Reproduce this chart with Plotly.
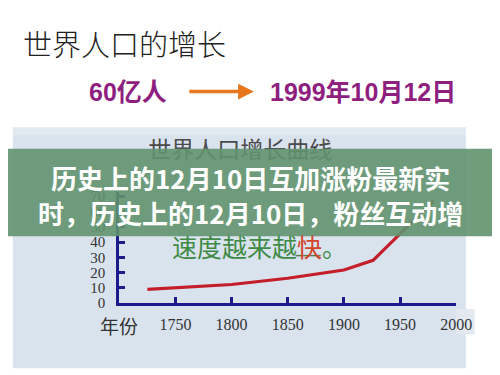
import plotly.graph_objects as go

# ---- data ----
years = [1725, 1750, 1800, 1850, 1900, 1926, 1961, 1980]
population = [9, 10, 12.2, 16.3, 21.7, 28, 53, 67]
x_ticks = [1750, 1800, 1850, 1900, 1950, 2000]
y_ticks = [0, 10, 20, 30, 40, 50, 60, 70]

title_text = "世界人口的增长"
left_label = "60亿人"
right_label = "1999年10月12日"
chart_title = "世界人口增长曲线"
x_axis_name = "年份"
banner_line1 = "历史上的12月10日互加涨粉最新实"
banner_line2 = "时，历史上的12月10日，粉丝互动增"

W, H = 500, 375


def px(x):
    return x / W


def py(y):
    return 1 - y / H


NAVY = "#1B1B8C"
CJK = "Noto Sans CJK SC"
SERIF = "Liberation Serif"

fig = go.Figure()
fig.add_trace(go.Scatter(
    x=years, y=population, mode="lines",
    line=dict(color="#C41E2A", width=3.2),
    hoverinfo="skip",
))

fig.update_layout(
    width=W, height=H,
    margin=dict(l=0, r=0, t=0, b=0),
    paper_bgcolor="white",
    plot_bgcolor="rgba(0,0,0,0)",
    showlegend=False,
)

fig.update_xaxes(
    range=[1700, 2000], domain=[px(115), px(463)],
    showline=True, linecolor=NAVY, linewidth=3,
    ticks="inside", tickvals=x_ticks, ticklen=6, tickwidth=3, tickcolor=NAVY,
    showgrid=False, zeroline=False,
    tickfont=dict(family=SERIF, size=16, color="#333333"),
    ticklabelstandoff=5,
)
fig.update_yaxes(
    range=[0, 73], domain=[py(301), py(186)],
    showline=True, linecolor=NAVY, linewidth=3,
    ticks="inside", tickvals=y_ticks, ticklen=6, tickwidth=3, tickcolor=NAVY,
    showgrid=False, zeroline=False,
    tickfont=dict(family=SERIF, size=15, color="#333333"),
    ticklabelstandoff=8,
)

shapes = [
    # light blue slide panel
    dict(type="rect", xref="paper", yref="paper", x0=px(5), x1=px(473), y0=py(368), y1=py(120),
         fillcolor="#D9E3EE", line=dict(width=0), layer="below"),
    dict(type="rect", xref="paper", yref="paper", x0=px(5), x1=px(473), y0=py(128), y1=py(120),
         fillcolor="#E3EAF2", line=dict(width=0), layer="below"),
    dict(type="rect", xref="paper", yref="paper", x0=px(463), x1=px(482), y0=py(333), y1=py(307),
         fillcolor="#E3E9F1", line=dict(width=0), layer="below"),
    # chart subtitle (partly hidden by banner)
    dict(type="rect", xref="paper", yref="paper", x0=px(140), x1=px(340), y0=py(158), y1=py(132),
         fillcolor="rgba(0,0,0,0)", line=dict(width=0), layer="above",
         label=dict(text=chart_title, font=dict(family=CJK, size=23, color="#4A4A4A"),
                    textposition="middle center")),
    # green banner
    dict(type="rect", xref="paper", yref="paper", x0=0, x1=1, y0=py(232), y1=py(142),
         fillcolor="rgba(96,146,110,0.9)", line=dict(width=0), layer="above"),
    # underline under 快
    dict(type="line", xref="paper", yref="paper", x0=px(297), x1=px(323), y0=py(252), y1=py(252),
         line=dict(color="#5C7A52", width=1.5), layer="above"),
]
fig.update_layout(shapes=shapes)

annotations = [
    dict(text=title_text, x=px(13), y=py(33), xanchor="left", yanchor="middle",
         font=dict(family=CJK, size=29, color="#222222", weight=300)),
    dict(text="<b>" + left_label + "</b>", x=px(82), y=py(83), xanchor="left", yanchor="middle",
         font=dict(family="Liberation Sans, " + CJK, size=25, color="#8E1F7E")),
    dict(text="<b>" + right_label + "</b>", x=px(269), y=py(83), xanchor="left", yanchor="middle",
         font=dict(family="Liberation Sans, " + CJK, size=25, color="#8E1F7E")),
    dict(text="", x=px(254), y=py(83), showarrow=True, ax=-66, ay=0,
         arrowhead=2, arrowsize=0.9, arrowwidth=3.5, arrowcolor="#E8761C"),
    dict(text="<span style='color:#3F8A45'>速度越来越</span><span style='color:#D2452A'>快</span>"
              "<span style='color:#3F8A45'>。</span>",
         x=px(167), y=py(242), xanchor="left", yanchor="middle",
         font=dict(family=CJK, size=25)),
    dict(text=x_axis_name, x=px(93), y=py(324), xanchor="left", yanchor="middle",
         font=dict(family=CJK, size=19, color="#333333")),
    dict(text="<b>" + banner_line1 + "</b>", x=0.5, y=py(172), xanchor="center", yanchor="middle",
         font=dict(family=CJK, size=26, color="white")),
    dict(text="<b>" + banner_line2 + "</b>", x=px(251), y=py(208), xanchor="center", yanchor="middle",
         font=dict(family=CJK, size=26, color="white")),
]
for a in annotations:
    a.setdefault("xref", "paper")
    a.setdefault("yref", "paper")
    a.setdefault("showarrow", False)
fig.update_layout(annotations=annotations)

fig.write_html("out.html")
